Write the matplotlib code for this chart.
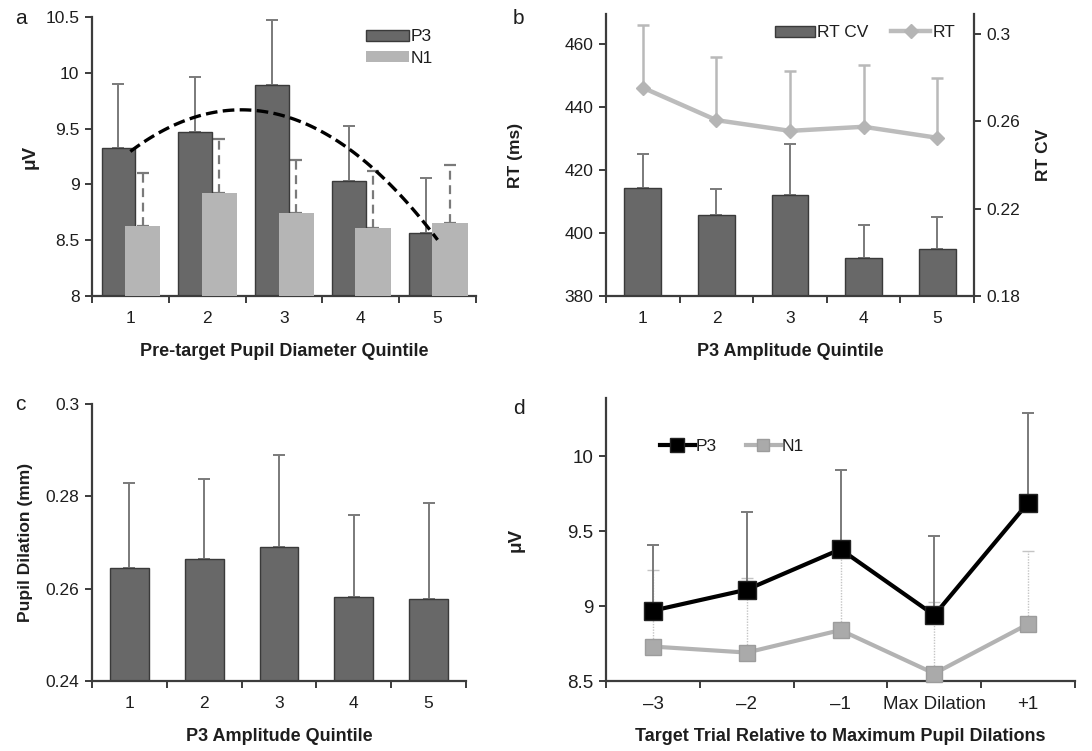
import numpy as np
import matplotlib
matplotlib.use("Agg")
import matplotlib.pyplot as plt
from matplotlib.ticker import FuncFormatter

plt.rcParams['font.family'] = ['Liberation Sans Narrow', 'Liberation Sans', 'DejaVu Sans']

# panel a: amplitude by pre-target pupil quintile
quint = [1, 2, 3, 4, 5]
a_p3 = [9.33, 9.47, 9.89, 9.03, 8.56]
a_p3_err = [0.57, 0.49, 0.58, 0.49, 0.50]
a_n1 = [8.63, 8.92, 8.74, 8.61, 8.65]
a_n1_err = [0.47, 0.49, 0.48, 0.51, 0.52]

# panel b: RT CV (bars) and RT (line) by P3 quintile
b_rtcv = [0.2294, 0.2169, 0.2262, 0.1974, 0.2015]
b_rtcv_err = [0.0156, 0.0122, 0.0233, 0.0152, 0.0148]
b_rt = [446.1, 435.8, 432.4, 433.7, 430.2]
b_rt_err = [19.9, 19.9, 18.9, 19.7, 18.9]

# panel c: pupil dilation by P3 quintile
c_pd = [0.2645, 0.2665, 0.2690, 0.2582, 0.2578]
c_pd_err = [0.0183, 0.0172, 0.0199, 0.0177, 0.0208]

# panel d: amplitude around maximum pupil dilations
d_labels = ['\u20133', '\u20132', '\u20131', 'Max Dilation', '+1']
d_p3 = [8.97, 9.11, 9.38, 8.94, 9.69]
d_p3_err = [0.44, 0.52, 0.53, 0.53, 0.60]
d_n1 = [8.73, 8.69, 8.84, 8.55, 8.88]
d_n1_err = [0.51, 0.50, 0.50, 0.48, 0.49]

DARK = '#686868'
DARK_EDGE = '#3a3a3a'
LIGHT = '#b5b5b5'
ERR = '#7a7a7a'
SPINE = '#3c3c3c'
TXT = '#1e1e1e'
TICK_FS = 12.5
XLAB_FS = 13
YLAB_FS = 12.5

fig = plt.figure(figsize=(10.92, 7.51), dpi=100)


def style_axes(ax, ncat, labels, tick_fs=TICK_FS):
    for s in ['top', 'right']:
        ax.spines[s].set_visible(False)
    for s in ['left', 'bottom']:
        ax.spines[s].set_color(SPINE)
        ax.spines[s].set_linewidth(1.6)
    ax.set_xlim(0.5, ncat + 0.5)
    ax.set_xticks(np.arange(0.5, ncat + 1, 1))
    ax.set_xticks(np.arange(1, ncat + 1), minor=True)
    ax.set_xticklabels(labels, minor=True)
    ax.tick_params(axis='x', which='major', labelbottom=False, length=5,
                   width=1.4, color=SPINE, direction='out')
    ax.tick_params(axis='x', which='minor', length=0, pad=11,
                   labelsize=tick_fs, labelcolor=TXT)
    ax.tick_params(axis='y', length=5, width=1.4, color=SPINE, direction='out',
                   pad=4, labelsize=tick_fs, labelcolor=TXT)
    ax.yaxis.set_major_formatter(FuncFormatter(lambda v, p: '%g' % round(v, 4)))


def up_err(ax, x, y, e, color, lw=1.4, ls='-', cap=4, z=1):
    eb = ax.errorbar(x, y, yerr=[np.zeros(len(e)), e], fmt='none', ecolor=color,
                     elinewidth=lw, capsize=cap, capthick=lw, zorder=z)
    eb[2][0].set_linestyle(ls)
    return eb


# ---- a ----
ax = fig.add_axes([0.0842, 0.6059, 0.3517, 0.3715])
x = np.array(quint)
up_err(ax, x - 0.155, a_p3, a_p3_err, ERR, z=1)
up_err(ax, x + 0.16, a_n1, a_n1_err, ERR, lw=1.6, ls=(0, (4, 2.5)), z=1)
ax.bar(x - 0.155, np.array(a_p3) - 8, bottom=8, width=0.44, color=DARK,
       edgecolor=DARK_EDGE, linewidth=1.0, label='P3', zorder=2)
ax.bar(x + 0.16, np.array(a_n1) - 8, bottom=8, width=0.46, color=LIGHT,
       linewidth=0, label='N1', zorder=3)
coef = np.polyfit(x, a_p3, 2)
xt = np.linspace(1, 5, 100)
ax.plot(xt, np.polyval(coef, xt), color='black', lw=2.4,
        linestyle=(0, (3.5, 1.6)), zorder=4)
ax.set_ylim(8, 10.5)
ax.set_yticks([8, 8.5, 9, 9.5, 10, 10.5])
style_axes(ax, 5, [str(q) for q in quint])
ax.set_ylabel('\u03bcV', fontsize=YLAB_FS + 1, fontweight='bold', color=TXT)
ax.yaxis.set_label_coords(-0.14, 0.5)
ax.set_xlabel('Pre-target Pupil Diameter Quintile', fontsize=XLAB_FS,
              fontweight='bold', color=TXT)
ax.xaxis.set_label_coords(0.5, -0.168)
h, l = ax.get_legend_handles_labels()
leg = ax.legend(h, l, loc='upper left', bbox_to_anchor=(0.695, 0.98), frameon=False,
                fontsize=TICK_FS, handlelength=2.5, handleheight=0.6,
                handletextpad=0.1, labelspacing=0.35, borderaxespad=0)
for t in leg.get_texts():
    t.set_color(TXT)
leg.legend_handles[1].set_edgecolor(LIGHT)

# ---- b ----
axb = fig.add_axes([0.555, 0.6059, 0.337, 0.3755])
axr = axb.twinx()
axb.set_zorder(axr.get_zorder() + 1)
axb.patch.set_visible(False)
up_err(axr, x, b_rtcv, b_rtcv_err, ERR)
axr.bar(x, np.array(b_rtcv) - 0.18, bottom=0.18, width=0.5, color=DARK,
        edgecolor=DARK_EDGE, linewidth=1.0, label='RT CV', zorder=2)
axr.set_ylim(0.18, 0.309)
axr.set_yticks([0.18, 0.22, 0.26, 0.30])
up_err(axb, x, b_rt, b_rt_err, '#b9b9b9', lw=1.8)
axb.plot(x, b_rt, color='#bcbcbc', lw=3.2, marker='D', markersize=7,
         markerfacecolor='#b5b5b5', markeredgecolor='#b5b5b5', label='RT', zorder=3)
axb.set_ylim(380, 469.5)
axb.set_yticks([380, 400, 420, 440, 460])
style_axes(axb, 5, [str(q) for q in quint])
axr.spines['top'].set_visible(False)
axr.spines['left'].set_visible(False)
axr.spines['bottom'].set_visible(False)
axr.spines['right'].set_color(SPINE)
axr.spines['right'].set_linewidth(1.6)
axr.tick_params(axis='y', length=5, width=1.4, color=SPINE, direction='out',
                pad=4, labelsize=TICK_FS, labelcolor=TXT)
axr.yaxis.set_major_formatter(FuncFormatter(lambda v, p: '%g' % round(v, 4)))
axb.set_ylabel('RT (ms)', fontsize=YLAB_FS, fontweight='bold', color=TXT)
axb.yaxis.set_label_coords(-0.226, 0.5)
axr.set_ylabel('RT CV', fontsize=YLAB_FS, fontweight='bold', color=TXT)
axr.yaxis.set_label_coords(1.168, 0.5)
axb.set_xlabel('P3 Amplitude Quintile', fontsize=XLAB_FS, fontweight='bold', color=TXT)
axb.xaxis.set_label_coords(0.5, -0.168)
h1, l1 = axr.get_legend_handles_labels()
h2, l2 = axb.get_legend_handles_labels()
leg = axb.legend(h1 + h2, l1 + l2, loc='upper left', bbox_to_anchor=(0.44, 0.985),
                 ncol=2, frameon=False, fontsize=TICK_FS, handlelength=2.3,
                 handleheight=0.6, handletextpad=0.1, columnspacing=1.3,
                 borderaxespad=0, numpoints=1)
for t in leg.get_texts():
    t.set_color(TXT)

# ---- c ----
axc = fig.add_axes([0.0842, 0.0932, 0.3425, 0.3689])
up_err(axc, x, c_pd, c_pd_err, ERR)
axc.bar(x, np.array(c_pd) - 0.24, bottom=0.24, width=0.52, color=DARK,
        edgecolor=DARK_EDGE, linewidth=1.0, zorder=2)
axc.set_ylim(0.24, 0.30)
axc.set_yticks([0.24, 0.26, 0.28, 0.30])
style_axes(axc, 5, [str(q) for q in quint])
axc.set_ylabel('Pupil Dilation (mm)', fontsize=YLAB_FS, fontweight='bold', color=TXT)
axc.yaxis.set_label_coords(-0.158, 0.5)
axc.set_xlabel('P3 Amplitude Quintile', fontsize=XLAB_FS, fontweight='bold', color=TXT)
axc.xaxis.set_label_coords(0.5, -0.170)

# ---- d ----
axd = fig.add_axes([0.555, 0.0932, 0.4294, 0.3768])
up_err(axd, x, d_n1, d_n1_err, '#c4c4c4', lw=1.0, ls=(0, (1, 1)), cap=4, z=1)
up_err(axd, x, d_p3, d_p3_err, ERR, lw=1.4, z=2)
axd.plot(x, d_n1, color='#b3b3b3', lw=3.0, marker='s', markersize=11,
         markerfacecolor='#aaaaaa', markeredgecolor='#9c9c9c', label='N1', zorder=3,
         clip_on=False)
axd.plot(x, d_p3, color='black', lw=3.0, marker='s', markersize=13,
         markerfacecolor='black', markeredgecolor='#222222', label='P3', zorder=4)
axd.set_ylim(8.5, 10.39)
axd.set_yticks([8.5, 9, 9.5, 10])
style_axes(axd, 5, d_labels, tick_fs=13.5)
axd.set_ylabel('\u03bcV', fontsize=YLAB_FS + 1, fontweight='bold', color=TXT)
axd.yaxis.set_label_coords(-0.173, 0.5)
axd.set_xlabel('Target Trial Relative to Maximum Pupil Dilations', fontsize=XLAB_FS,
               fontweight='bold', color=TXT)
axd.xaxis.set_label_coords(0.5, -0.166)
h, l = axd.get_legend_handles_labels()
leg = axd.legend(h[::-1], l[::-1], loc='upper left', bbox_to_anchor=(0.1, 0.88),
                 ncol=2, frameon=False, fontsize=TICK_FS, handlelength=2.0,
                 handletextpad=0.05, columnspacing=1.7, borderaxespad=0,
                 numpoints=1, markerscale=0.8)
for t in leg.get_texts():
    t.set_color(TXT)

# panel letters
for s, px, py in [('a', 15, 18), ('b', 513, 18), ('c', 15, 405), ('d', 513, 408)]:
    fig.text(px / 1092, 1 - py / 751, s, fontsize=15, color=TXT, va='center', ha='left',
             family=['Liberation Sans', 'DejaVu Sans'])

fig.savefig('out.png', dpi=100)
